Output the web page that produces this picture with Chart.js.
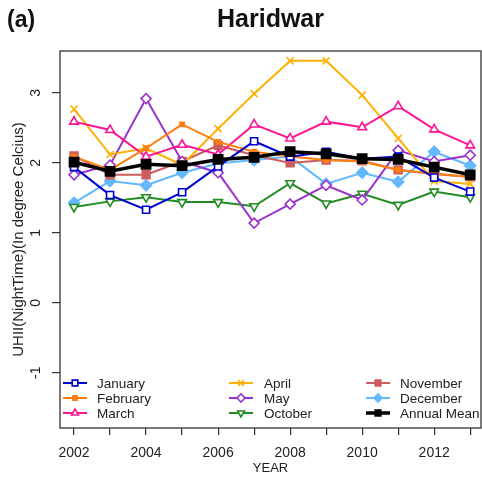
<!DOCTYPE html>
<html>
<head>
<meta charset="utf-8">
<title>Haridwar UHII</title>
<script src="https://cdn.jsdelivr.net/npm/chart.js@4/dist/chart.umd.min.js"></script>
<style>
  html, body { margin: 0; padding: 0; background: #fff; overflow: hidden; }
  #wrap { width: 482px; height: 477px; }
  canvas { display: block; }
</style>
</head>
<body>
<div id="wrap"><canvas id="uhiiChart" width="482" height="477"></canvas></div>
<script>
// Years on the x axis
const years = [2002, 2003, 2004, 2005, 2006, 2007, 2008, 2009, 2010, 2011, 2012, 2013];

// Night time UHII per month (deg C)
const january  = [1.94, 1.54, 1.33, 1.58, 1.95, 2.31, 2.09, 2.16, 2.06, 2.09, 1.79, 1.59];
const february = [2.09, 1.90, 2.21, 2.55, 2.30, 2.16, 2.09, 2.04, 2.02, 1.90, 1.85, 1.80];
const march    = [2.59, 2.47, 2.09, 2.26, 2.12, 2.55, 2.35, 2.59, 2.51, 2.81, 2.48, 2.25];
const april    = [2.77, 2.12, 2.21, 1.97, 2.49, 2.99, 3.46, 3.46, 2.97, 2.35, 1.74, 1.70];
const may      = [1.83, 1.97, 2.92, 2.02, 1.86, 1.14, 1.41, 1.68, 1.47, 2.18, 2.02, 2.11];
const october  = [1.37, 1.45, 1.51, 1.44, 1.44, 1.38, 1.71, 1.42, 1.56, 1.40, 1.59, 1.51];
const november = [2.10, 1.83, 1.83, 2.02, 2.25, 2.11, 2.00, 2.04, 2.03, 1.90, 1.84, 1.80];
const december = [1.43, 1.74, 1.68, 1.86, 1.99, 2.04, 2.09, 1.70, 1.86, 1.73, 2.16, 1.96];
const annualMean = [2.01, 1.88, 1.98, 1.96, 2.05, 2.08, 2.16, 2.13, 2.06, 2.05, 1.94, 1.83];

const yTickValues = [-1, 0, 1, 2, 3];
const xLabelYears = [2002, 2004, 2006, 2008, 2010, 2012];

const FONT = '"Liberation Sans", Arial, sans-serif';

function toPoints(values) {
    return values.map((v, i) => ({ x: years[i], y: v }));
}

function series(label, values, color, style) {
    return Object.assign({
        label: label,
        data: toPoints(values),
        borderColor: color,
        backgroundColor: color,
        pointBorderColor: color,
        pointBackgroundColor: '#fff',
        borderWidth: 2,
        pointBorderWidth: 1.6,
        pointRadius: 4.5,
        pointHoverRadius: 4.5,
        tension: 0
    }, style);
}

const datasets = [
    series('January', january, '#0000d0', { pointStyle: 'rect', pointRadius: 5 }),
    series('February', february, '#ff7f0e', { pointStyle: 'rect', pointRadius: 3, pointBackgroundColor: '#ff7f0e' }),
    series('March', march, '#ff1493', { pointStyle: 'triangle', pointRadius: 5 }),
    series('April', april, '#ffb000', { pointStyle: 'crossRot', pointRadius: 5 }),
    series('May', may, '#9932cc', { pointStyle: 'rectRot', pointRadius: 5 }),
    series('October', october, '#228b22', { pointStyle: 'triangle', pointRotation: 180, pointRadius: 5 }),
    series('November', november, '#cd5c5c', { pointStyle: 'rect', pointRadius: 5.5, pointBackgroundColor: '#cd5c5c' }),
    series('December', december, '#63b8ff', { pointStyle: 'rectRot', pointRadius: 5.5, pointBackgroundColor: '#63b8ff' }),
    series('Annual Mean', annualMean, '#000000', { pointStyle: 'rect', pointRadius: 6.5, borderWidth: 3.5, pointBackgroundColor: '#000', order: -1 })
];

// Draws the R-style box, title, rotated y labels and the in-plot legend
const rDecor = {
    id: 'rDecor',
    afterDraw(chart) {
        const ctx = chart.ctx;
        const a = chart.chartArea;
        const yScale = chart.scales.y;
        ctx.save();

        // plot box
        ctx.strokeStyle = '#333';
        ctx.lineWidth = 1.3;
        ctx.strokeRect(a.left, a.top, a.right - a.left, a.bottom - a.top);

        // titles
        ctx.fillStyle = '#111';
        ctx.textBaseline = 'middle';
        ctx.textAlign = 'left';
        ctx.font = 'bold 23px ' + FONT;
        ctx.fillText('(a)', 7, 21);
        ctx.textAlign = 'center';
        ctx.font = 'bold 25px ' + FONT;
        ctx.fillText('Haridwar', (a.left + a.right) / 2, 20);

        // y tick labels, rotated like R's default
        ctx.font = '14px ' + FONT;
        ctx.fillStyle = '#222';
        yScale.ticks.forEach(t => {
            ctx.save();
            ctx.translate(36, yScale.getPixelForValue(t.value));
            ctx.rotate(-Math.PI / 2);
            ctx.fillText(String(t.value), 0, 0);
            ctx.restore();
        });

        // y axis title
        ctx.save();
        ctx.translate(19, (a.top + a.bottom) / 2);
        ctx.rotate(-Math.PI / 2);
        ctx.font = '15px ' + FONT;
        ctx.fillText('UHII(NightTime)(In degree Celcius)', 0, 0);
        ctx.restore();

        // legend, three columns inside the plot
        const colLine = [a.left + 3, a.left + 169, a.left + 306];
        const colText = [a.left + 37, a.left + 204, a.left + 340];
        const rowY = [a.bottom - 45, a.bottom - 30, a.bottom - 15];
        ctx.textAlign = 'left';
        ctx.font = '13.5px ' + FONT;
        chart.data.datasets.forEach((ds, i) => {
            const col = Math.floor(i / 3), row = i % 3;
            const x0 = colLine[col], yy = rowY[row];
            ctx.strokeStyle = ds.borderColor;
            ctx.lineWidth = ds.borderWidth;
            ctx.beginPath();
            ctx.moveTo(x0, yy);
            ctx.lineTo(x0 + 24, yy);
            ctx.stroke();
            ctx.lineWidth = ds.pointBorderWidth;
            ctx.strokeStyle = ds.pointBorderColor;
            ctx.fillStyle = ds.pointBackgroundColor;
            Chart.helpers.drawPoint(ctx, {
                pointStyle: ds.pointStyle,
                radius: Math.min(ds.pointRadius, 4),
                rotation: ds.pointRotation || 0,
                borderWidth: ds.pointBorderWidth
            }, x0 + 12, yy);
            ctx.fillStyle = '#222';
            ctx.fillText(ds.label, colText[col], yy + 1);
        });

        ctx.restore();
    }
};

const chart = new Chart(document.getElementById('uhiiChart'), {
    type: 'line',
    data: { datasets: datasets },
    options: {
        responsive: false,
        animation: false,
        layout: { autoPadding: false, padding: { top: 51, right: 1, left: 0, bottom: 0 } },
        plugins: {
            legend: { display: false },
            tooltip: { enabled: false }
        },
        scales: {
            x: {
                type: 'linear',
                min: 2001.61,
                max: 2013.3,
                afterBuildTicks: scale => {
                    scale.ticks = years.map(v => ({ value: v }));
                },
                afterFit: scale => {
                    scale.height = 49;
                    scale.paddingLeft = 0;
                    scale.paddingRight = 0;
                },
                grid: { drawOnChartArea: false, tickLength: 7, color: '#333', lineWidth: 1.2 },
                border: { display: false },
                ticks: {
                    padding: 10,
                    color: '#222',
                    font: { family: FONT, size: 14 },
                    autoSkip: false,
                    maxRotation: 0,
                    callback: v => xLabelYears.includes(v) ? String(v) : ''
                },
                title: {
                    display: true,
                    text: 'YEAR',
                    color: '#222',
                    font: { family: FONT, size: 13 },
                    padding: { top: 0, bottom: 1 }
                }
            },
            y: {
                min: -1.79,
                max: 3.6,
                afterBuildTicks: scale => {
                    scale.ticks = yTickValues.map(v => ({ value: v }));
                },
                afterFit: scale => {
                    scale.width = 60;
                    scale.paddingTop = 0;
                    scale.paddingBottom = 0;
                },
                grid: { drawOnChartArea: false, tickLength: 8, color: '#333', lineWidth: 1.2 },
                border: { display: false },
                ticks: { display: false }
            }
        }
    },
    plugins: [rDecor]
});
</script>
</body>
</html>
